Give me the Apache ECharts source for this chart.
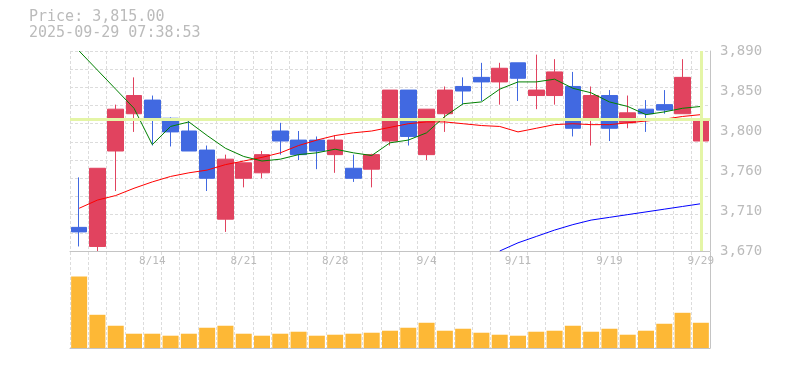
<!DOCTYPE html>
<html>
<head>
<meta charset="utf-8">
<script src="https://cdn.jsdelivr.net/npm/echarts@6/dist/echarts.min.js"></script>
<style>
html,body{margin:0;padding:0;background:#fff;}
#chart{width:785px;height:370px;}
</style>
</head>
<body>
<div id="chart"></div>
<script>
const titleText = 'Price: 3,815.00';
const timeText = '2025-09-29 07:38:53';
const currentPrice = 3815;
const lastDate = '9/29';

const categories = ['8/7','8/8','8/12','8/13','8/14','8/15','8/18','8/19','8/20','8/21','8/22','8/25','8/26','8/27','8/28','8/29','9/1','9/2','9/3','9/4','9/5','9/8','9/9','9/10','9/11','9/12','9/16','9/17','9/18','9/19','9/22','9/24','9/25','9/26','9/29'];

const openVals  = [3696,3675,3780,3821,3836,3816,3802,3781,3705,3750,3756,3802,3792,3792,3776,3761,3760,3791,3847,3776,3821,3851,3861,3856,3877,3841,3841,3851,3815,3841,3811,3826,3831,3821,3791];
const closeVals = [3691,3761,3826,3841,3815,3801,3780,3750,3771,3767,3776,3791,3776,3780,3792,3750,3776,3847,3796,3826,3847,3846,3856,3871,3860,3847,3867,3805,3841,3805,3822,3821,3825,3861,3815];
const lowVals   = [3675,3670,3736,3801,3786,3785,3780,3736,3691,3740,3750,3776,3770,3760,3756,3746,3740,3786,3786,3770,3801,3831,3835,3831,3835,3826,3831,3796,3786,3791,3805,3801,3821,3821,3760];
const highVals  = [3751,3761,3831,3861,3841,3817,3816,3786,3776,3767,3780,3811,3802,3796,3797,3776,3777,3847,3847,3826,3851,3861,3877,3877,3877,3886,3881,3867,3851,3847,3841,3836,3847,3881,3821];

const ma5  = [3890,3869,3848,3827,3787,3807,3812,3797,3783,3774,3769,3771,3776,3778,3782,3778,3775,3789,3792,3800,3818,3832,3834,3848,3856,3856,3859,3849,3844,3834,3829,3820,3823,3827,3829];
const ma25 = [3717,3726,3731,3739,3746,3752,3756,3759,3765,3769,3773,3778,3786,3792,3797,3800,3802,3806,3810,3812,3812,3810,3808,3807,3801,3805,3809,3810,3809,3809,3811,3813,3815,3818,3820];
const ma75 = [null,null,null,null,null,null,null,null,null,null,null,null,null,null,null,null,null,null,null,null,null,null,null,3670,3679,3686,3693,3699,3704,3707,3710,3713,3716,3719,3722];

const volume = [215,100,67,43,43,37,43,61,67,43,37,43,49,37,40,43,46,52,61,76,52,58,46,40,37,49,52,67,49,58,40,52,73,106,76];

const priceMin = 3670, priceMax = 3890, gridStep = 20, labelStep = 44;
const volumeMax = 289;

const FONT = 'DejaVu Sans Mono';
const TXT = '#bbbbbb';
const GRIDC = '#dcdcdc';
const AXISC = '#c4c4c4';
const UP = '#e1435f', DOWN = '#4169e1';

const ohlc = categories.map((c, i) => [openVals[i], closeVals[i], lowVals[i], highVals[i]]);

function fmtLabel(v) {
  const r = Math.round(v / 10) * 10;
  return r.toLocaleString('en-US');
}

const chart = echarts.init(document.getElementById('chart'), null, {renderer: 'canvas'});
chart.setOption({
  animation: false,
  backgroundColor: '#fff',
  title: {
    text: titleText,
    subtext: timeText,
    left: 29,
    top: 9,
    itemGap: 0,
    padding: 0,
    textStyle: {fontFamily: FONT, fontSize: 15, fontWeight: 'normal', color: TXT, lineHeight: 16},
    subtextStyle: {fontFamily: FONT, fontSize: 15, color: TXT, lineHeight: 16}
  },
  grid: [
    {left: 70, right: 75, top: 51, height: 200},
    {left: 70, right: 75, top: 252, height: 96}
  ],
  xAxis: [
    {
      type: 'category', gridIndex: 0, data: categories, boundaryGap: true,
      axisLine: {show: true, lineStyle: {color: AXISC, width: 1}},
      axisTick: {show: false},
      axisLabel: {
        show: true, color: TXT, fontFamily: FONT, fontSize: 11, margin: 5,
        interval: function (idx) { return idx % 5 === 4; }
      },
      splitLine: {show: true, interval: 0, lineStyle: {color: GRIDC, type: [3, 2], width: 1}}
    },
    {
      type: 'category', gridIndex: 1, data: categories, boundaryGap: true,
      axisLine: {show: true, lineStyle: {color: AXISC, width: 1}},
      axisTick: {show: false},
      axisLabel: {show: false},
      splitLine: {show: true, interval: 0, lineStyle: {color: GRIDC, type: [3, 2], width: 1}}
    }
  ],
  yAxis: [
    {
      type: 'value', gridIndex: 0, position: 'right', min: priceMin, max: priceMax, interval: gridStep,
      axisLine: {show: true, lineStyle: {color: AXISC, width: 1}},
      axisTick: {show: false},
      axisLabel: {show: false},
      splitLine: {show: true, lineStyle: {color: GRIDC, type: [3, 2], width: 1}}
    },
    {
      type: 'value', gridIndex: 0, position: 'right', min: priceMin, max: priceMax, interval: labelStep,
      axisLine: {show: false},
      axisTick: {show: false},
      splitLine: {show: false},
      axisLabel: {show: true, color: TXT, fontFamily: FONT, fontSize: 14, margin: 10, formatter: fmtLabel}
    },
    {
      type: 'value', gridIndex: 1, position: 'right', min: 0, max: volumeMax,
      axisLine: {show: true, lineStyle: {color: AXISC, width: 1}},
      axisTick: {show: false},
      axisLabel: {show: false},
      splitLine: {show: false}
    }
  ],
  series: [
    {
      type: 'line', xAxisIndex: 0, yAxisIndex: 0, data: [], z: 1,
      markLine: {
        silent: true, symbol: ['none', 'none'], label: {show: false},
        lineStyle: {color: '#e4f5a6', width: 3, type: 'solid'},
        data: [{yAxis: currentPrice}, {xAxis: lastDate}]
      }
    },
    {
      type: 'candlestick', xAxisIndex: 0, yAxisIndex: 0, data: ohlc, barWidth: 16, z: 3,
      itemStyle: {color: UP, color0: DOWN, borderColor: UP, borderColor0: DOWN, borderWidth: 1}
    },
    {type: 'line', xAxisIndex: 0, yAxisIndex: 0, data: ma75, showSymbol: false, symbol: 'none', z: 4,
      lineStyle: {color: '#0000ff', width: 1}},
    {type: 'line', xAxisIndex: 0, yAxisIndex: 0, data: ma25, showSymbol: false, symbol: 'none', z: 4,
      lineStyle: {color: '#ff0000', width: 1}},
    {type: 'line', xAxisIndex: 0, yAxisIndex: 0, data: ma5, showSymbol: false, symbol: 'none', z: 4,
      lineStyle: {color: '#008000', width: 1}},
    {
      type: 'bar', xAxisIndex: 1, yAxisIndex: 2, data: volume, barWidth: 16,
      itemStyle: {color: '#fdb836'}
    }
  ]
});
</script>
</body>
</html>
